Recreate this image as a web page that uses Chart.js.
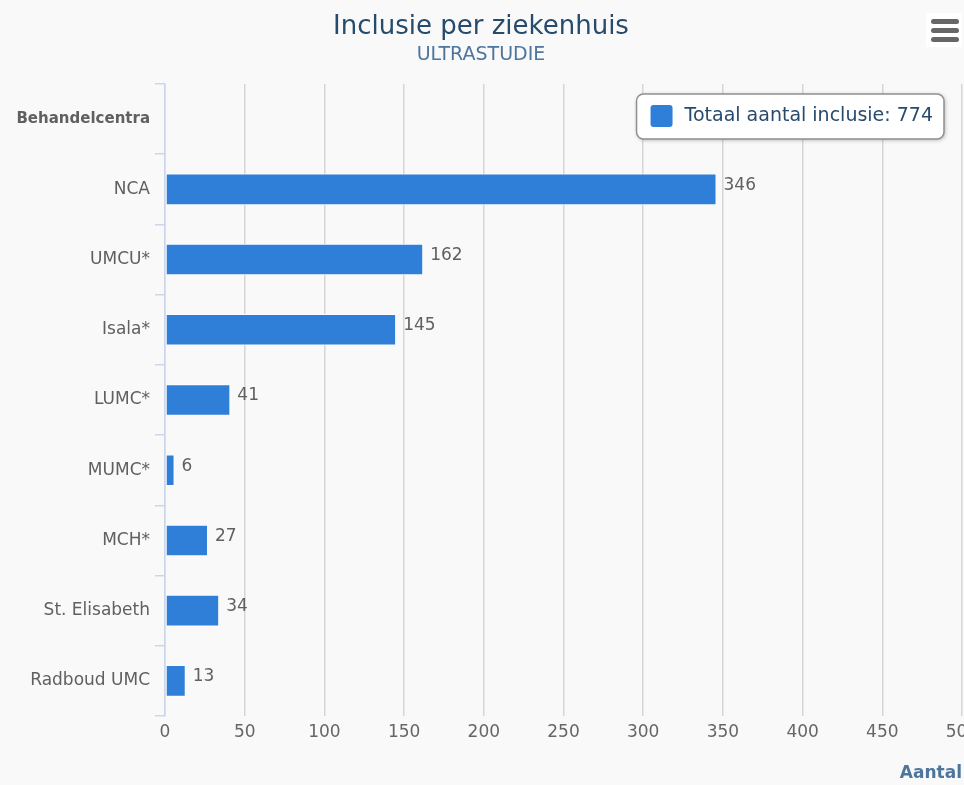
<!DOCTYPE html>
<html>
<head>
<meta charset="utf-8">
<title>Inclusie per ziekenhuis</title>
<script src="https://cdn.jsdelivr.net/npm/chart.js@4/dist/chart.umd.min.js"></script>
<style>
  body { margin: 0; background: #f9f9f9; }
  #wrap { width: 964px; height: 785px; position: relative; }
</style>
</head>
<body>
<div id="wrap"><canvas id="incChart"></canvas></div>
<script>
// data
const centra = ['Behandelcentra', 'NCA', 'UMCU*', 'Isala*', 'LUMC*', 'MUMC*', 'MCH*', 'St. Elisabeth', 'Radboud UMC'];
const inclusies = [null, 346, 162, 145, 41, 6, 27, 34, 13];
const totaal = 774;
const xMin = 0, xMax = 500, xStep = 50;

const labelFont = "'DejaVu Sans', Verdana, sans-serif";

// value labels to the right of each bar
const valueLabels = {
  id: 'valueLabels',
  afterDatasetsDraw(chart) {
    const ctx = chart.ctx;
    const meta = chart.getDatasetMeta(0);
    ctx.save();
    ctx.font = '17px ' + labelFont;
    ctx.fillStyle = '#606060';
    ctx.textAlign = 'left';
    ctx.textBaseline = 'middle';
    meta.data.forEach((bar, i) => {
      const v = chart.data.datasets[0].data[i];
      if (v == null) return;
      ctx.fillText(String(v), bar.x + 7, bar.y - 4);
    });
    ctx.restore();
  }
};

// floating legend in a white rounded box, top right of the plot
const floatLegend = {
  id: 'floatLegend',
  afterDatasetsDraw(chart) {
    const ds = chart.data.datasets[0];
    const area = chart.chartArea;
    const ctx = chart.ctx;
    ctx.save();
    ctx.font = '19px ' + labelFont;
    const tw = ctx.measureText(ds.label).width;
    const w = 14 + 22 + 12 + tw + 11, h = 45;
    const x = area.right - 18 - w, y = area.top + 10;
    ctx.shadowColor = 'rgba(0,0,0,0.3)';
    ctx.shadowBlur = 4;
    ctx.shadowOffsetX = 1;
    ctx.shadowOffsetY = 1;
    ctx.beginPath();
    ctx.roundRect(x, y, w, h, 7);
    ctx.fillStyle = '#ffffff';
    ctx.fill();
    ctx.shadowColor = 'transparent';
    ctx.lineWidth = 1.5;
    ctx.strokeStyle = '#909090';
    ctx.stroke();
    ctx.beginPath();
    ctx.roundRect(x + 14, y + 11, 22, 22, 3);
    ctx.fillStyle = ds.backgroundColor;
    ctx.fill();
    ctx.fillStyle = '#274b6d';
    ctx.textAlign = 'left';
    ctx.textBaseline = 'middle';
    ctx.fillText(ds.label, x + 48, y + 22);
    ctx.restore();
  }
};

// export menu icon in the top right corner
const menuIcon = {
  id: 'menuIcon',
  afterDraw(chart) {
    const ctx = chart.ctx;
    ctx.save();
    ctx.fillStyle = '#ffffff';
    ctx.fillRect(926, 13, 36, 34);
    ctx.fillStyle = '#666666';
    [19, 28, 37].forEach(y => {
      ctx.beginPath();
      ctx.roundRect(931, y, 28, 5, 2.5);
      ctx.fill();
    });
    ctx.restore();
  }
};

new Chart(document.getElementById('incChart'), {
  type: 'bar',
  data: {
    labels: centra,
    datasets: [{
      label: 'Totaal aantal inclusie: ' + totaal,
      data: inclusies,
      backgroundColor: '#2f7ed8',
      borderColor: '#ffffff',
      borderWidth: 1,
      borderSkipped: false,
      barPercentage: 0.45,
      categoryPercentage: 1
    }]
  },
  options: {
    indexAxis: 'y',
    responsive: true,
    maintainAspectRatio: false,
    animation: false,
    layout: { padding: { top: 0, right: 2, bottom: 0, left: 0 } },
    plugins: {
      tooltip: { enabled: false },
      legend: { display: false },
      title: {
        display: true,
        text: 'Inclusie per ziekenhuis',
        color: '#274b6d',
        font: { family: labelFont, size: 26, weight: 'normal' },
        padding: { top: 12, bottom: 0 }
      },
      subtitle: {
        display: true,
        text: 'ULTRASTUDIE',
        color: '#4d759e',
        font: { family: labelFont, size: 19, weight: 'normal' },
        padding: { top: 0, bottom: 18 }
      }
    },
    scales: {
      x: {
        min: xMin,
        max: xMax,
        ticks: {
          stepSize: xStep,
          color: '#666666',
          font: { family: labelFont, size: 17 },
          padding: 6
        },
        grid: {
          color: '#d6d6d6',
          lineWidth: 1.5,
          drawTicks: false
        },
        border: { display: false },
        title: {
          display: true,
          text: 'Aantal',
          align: 'end',
          color: '#4d759e',
          font: { family: labelFont, size: 17, weight: 'bold' },
          padding: { top: 0, bottom: 1 }
        },
        afterFit(scale) {
          scale.height = 69;
          scale.paddingRight = 0;
        }
      },
      y: {
        ticks: {
          color: '#606060',
          padding: 5,
          font: (c) => c.index === 0
            ? { family: labelFont, size: 15, weight: 'bold' }
            : { family: labelFont, size: 17 }
        },
        grid: {
          drawOnChartArea: false,
          tickLength: 10,
          color: '#ccd6eb',
          lineWidth: 1.5
        },
        border: { color: '#ccd6eb', width: 1.5 },
        afterFit(scale) {
          scale.width = 165;
        }
      }
    }
  },
  plugins: [valueLabels, floatLegend, menuIcon]
});
</script>
</body>
</html>
